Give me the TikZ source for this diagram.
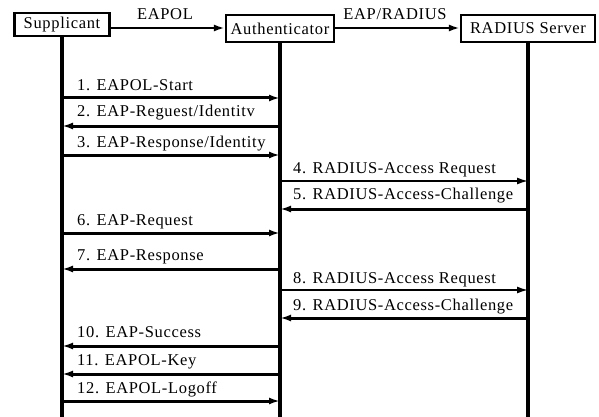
\documentclass[tikz,border=0pt]{standalone}
\usepackage{fontspec}
\setmainfont{Liberation Serif}[LetterSpace=4]
\usepackage{tikz}
\usetikzlibrary{arrows.meta}
\tikzstyle{party}=[draw, line width=2.2pt, inner sep=0pt, font=\fontsize{16.5}{18}\selectfont]
\tikzstyle{life}=[line width=3.4pt]
\tikzstyle{msg}=[line width=3pt, -{Latex[length=11pt, width=7pt]}]
\tikzstyle{tmsg}=[msg, line width=1.6pt]
\tikzstyle{lbl}=[anchor=base west, inner sep=0pt, font=\fontsize{16.5}{18}\selectfont]
\tikzstyle{hdr}=[anchor=base, inner sep=0pt, font=\fontsize{16.5}{18}\selectfont]

\begin{document}
\begin{tikzpicture}[x=1pt, y=-1pt]
        \useasboundingbox (0,0) rectangle (599,417);
        \node[party, minimum width=95pt, minimum height=23pt] (sup) at (62, 24.5) {Supplicant};
        \node[party, minimum width=108pt, minimum height=27pt] (auth) at (280, 28.5) {Authenticator};
        \node[party, minimum width=134pt, minimum height=27pt] (rad) at (528, 28.5) {RADIUS Server};
        \coordinate (supEnd) at (62, 417);
        \coordinate (authEnd) at (280, 417);
        \coordinate (radEnd) at (528, 417);
        \draw[life] (sup.south) -- (supEnd);
        \draw[life] (auth.south) -- (authEnd);
        \draw[life] (rad.south) -- (radEnd);
        \draw[msg, line width=2.2pt] (sup.east |- 0,28) -- (auth.west |- 0,28);
        \draw[msg, line width=2.2pt] (auth.east |- 0,28) -- (rad.west |- 0,28);
        \node[hdr] (eapol) at (165, 20) {EAPOL};
        \node[hdr] (eapradius) at (395, 20) {EAP/RADIUS};

        \draw[msg] (sup |- 0,98) -- (auth |- 0,98);
        \draw[msg] (auth |- 0,126) -- (sup |- 0,126);
        \draw[msg] (sup |- 0,155) -- (auth |- 0,155);
        \draw[tmsg] (auth |- 0,181) -- (rad |- 0,181);
        \draw[msg] (rad |- 0,209) -- (auth |- 0,209);
        \draw[msg] (sup |- 0,233) -- (auth |- 0,233);
        \draw[msg] (auth |- 0,269) -- (sup |- 0,269);
        \draw[tmsg] (auth |- 0,290) -- (rad |- 0,290);
        \draw[msg] (rad |- 0,318) -- (auth |- 0,318);
        \draw[msg] (auth |- 0,346) -- (sup |- 0,346);
        \draw[msg] (auth |- 0,374) -- (sup |- 0,374);
        \draw[msg] (sup |- 0,401) -- (auth |- 0,401);

        \node[lbl] (m1) at (77, 91) {1. EAPOL-Start};
        \node[lbl] (m2) at (77, 117) {2. EAP-Reguest/Identitv};
        \node[lbl] (m3) at (77, 147) {3. EAP-Response/Identity};
        \node[lbl] (m4) at (293, 173) {4. RADIUS-Access Request};
        \node[lbl] (m5) at (293, 199) {5. RADIUS-Access-Challenge};
        \node[lbl] (m6) at (77, 225) {6. EAP-Request};
        \node[lbl] (m7) at (77, 260) {7. EAP-Response};
        \node[lbl] (m8) at (293, 283) {8. RADIUS-Access Request};
        \node[lbl] (m9) at (293, 310) {9. RADIUS-Access-Challenge};
        \node[lbl] (m10) at (77, 337) {10. EAP-Success};
        \node[lbl] (m11) at (77, 365) {11. EAPOL-Key};
        \node[lbl] (m12) at (77, 393) {12. EAPOL-Logoff};
    \end{tikzpicture}
\end{document}
